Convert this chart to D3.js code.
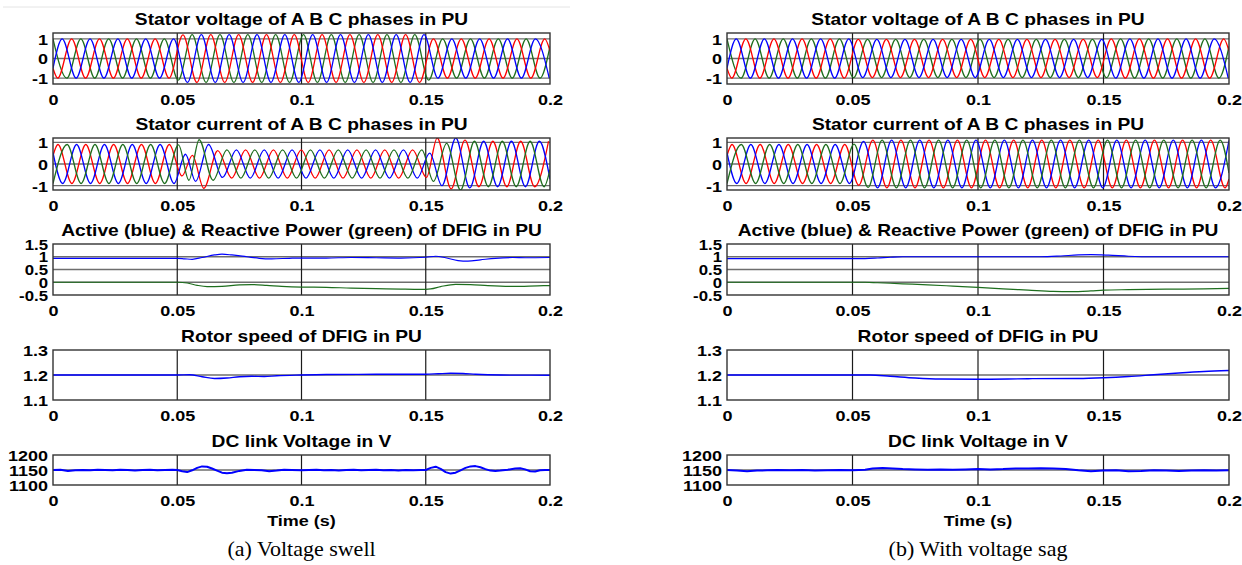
<!DOCTYPE html>
<html>
<head>
<meta charset="utf-8">
<script src="https://cdn.jsdelivr.net/npm/d3@7"></script>
<style>
body { margin: 0; background: #fff; }
text { font-family: "Liberation Sans", Arial, sans-serif; }
</style>
</head>
<body>
<svg id="chart"></svg>
<script>
// ---- tick labels / titles ----
const timeTicks = [0, 0.05, 0.1, 0.15, 0.2];
const timeTickLabels = ["0", "0.05", "0.1", "0.15", "0.2"];
const panelTitles = [
  "Stator voltage of A B C phases in PU",
  "Stator current of A B C phases in PU",
  "Active (blue) & Reactive Power (green) of DFIG in PU",
  "Rotor speed of DFIG in PU",
  "DC link Voltage in V"
];
const puTicks = [-1, 0, 1];
const powerTicks = [-0.5, 0, 0.5, 1, 1.5];
const speedTicks = [1.1, 1.2, 1.3];
const dcTicks = [1100, 1150, 1200];
const captions = ["(a) Voltage swell", "(b) With voltage sag"];

// ---- stator voltage: extrema, phases cycle C(green), B(red), A(blue) ----
const voltPeakTimes = [
  0,.0019,.0037,.0056,.0075,.0093,.0112,.0131,.0149,.0168,
  .0187,.0205,.0224,.0243,.0261,.028,.0299,.0317,.0336,.0355,
  .0373,.0392,.0411,.0429,.0448,.0467,.0485,.0504,.0523,.0541,
  .056,.0579,.0597,.0616,.0635,.0653,.0672,.0691,.0709,.0728,
  .0747,.0765,.0784,.0803,.0821,.084,.0859,.0877,.0896,.0915,
  .0933,.0952,.0971,.0989,.1008,.1027,.1045,.1064,.1083,.1101,
  .112,.1139,.1157,.1176,.1195,.1213,.1232,.1251,.1269,.1288,
  .1307,.1325,.1344,.1363,.1381,.14,.1419,.1437,.1456,.1475,
  .1493,.1512,.1531,.1549,.1568,.1587,.1605,.1624,.1643,.1661,
  .168,.1699,.1717,.1736,.1755,.1773,.1792,.1811,.1829,.1848,
  .1867,.1885,.1904,.1923,.1941,.196,.1979,.1997
];
const swellVoltPeaks = [
  1,-1,1,-1,1,-1,1,-1,1,-1,
  1,-1,1,-1,1,-1,1,-1,1,-1,
  1,-1,1,-1,1,-1,1,-1.1,1.2,-1.22,
  1.22,-1.22,1.22,-1.22,1.22,-1.22,1.22,-1.22,1.22,-1.22,
  1.22,-1.22,1.22,-1.22,1.22,-1.22,1.22,-1.22,1.22,-1.22,
  1.22,-1.22,1.22,-1.22,1.22,-1.22,1.22,-1.22,1.22,-1.22,
  1.22,-1.22,1.22,-1.22,1.22,-1.22,1.22,-1.22,1.22,-1.22,
  1.22,-1.22,1.22,-1.22,1.22,-1.22,1.22,-1.22,1.22,-1.22,
  1.22,-1.1,1,-1,1,-1,1,-1,1,-1,
  1,-1,1,-1,1,-1,1,-1,1,-1,
  1,-1,1,-1,1,-1,1,-1
];
const sagVoltPeaks = [
  1,-1,1,-1,1,-1,1,-1,1,-1,
  1,-1,1,-1,1,-1,1,-1,1,-1,
  1,-1,1,-1,1,-1,1,-.98,.97,-.97,
  .97,-.97,.97,-.97,.97,-.97,.97,-.97,.97,-.97,
  .97,-.97,.97,-.97,.97,-.97,.97,-.97,.97,-.97,
  .97,-.97,.97,-.97,.97,-.97,.97,-.97,.97,-.97,
  .97,-.97,.97,-.97,.97,-.97,.97,-.97,.97,-.97,
  .97,-.97,.97,-.97,.97,-.97,.97,-.97,.97,-.97,
  .97,-.98,1,-1,1,-1,1,-1,1,-1,
  1,-1,1,-1,1,-1,1,-1,1,-1,
  1,-1,1,-1,1,-1,1,-1
];
const voltPhaseOrder = ["C", "B", "A"];
const voltStartVals = [null, -0.5, -0.5];
const swellVoltEndVals = [0.62, 0.38, null];
const sagVoltEndVals = [0.62, 0.38, null];

// ---- stator current: phases cycle B(red), A(blue), C(green) ----
const swellCurTimes = [
  .002,.0039,.0057,.0076,.0095,.0113,.0132,.0151,.0169,.0188,
  .0207,.0225,.0244,.0263,.0281,.03,.0319,.0337,.0356,.0375,
  .0393,.0412,.0431,.0449,.0468,.0487,.0505,.0519,.0533,.0547,
  .0561,.0574,.0588,.0607,.0626,.0644,.0663,.0682,.07,.0719,
  .0738,.0756,.0775,.0794,.0812,.0831,.085,.0868,.0887,.0906,
  .0924,.0943,.0962,.098,.0999,.1018,.1036,.1055,.1074,.1092,
  .1111,.113,.1148,.1167,.1186,.1204,.1223,.1242,.126,.1279,
  .1298,.1316,.1335,.1354,.1372,.1391,.141,.1428,.1447,.1466,
  .1484,.1503,.1516,.1531,.1546,.1565,.1584,.1602,.1621,.164,
  .1658,.1677,.1696,.1714,.1733,.1752,.177,.1789,.1808,.1826,
  .1845,.1864,.1882,.1901,.192,.1938,.1957,.1976,.1994
];
const swellCurPeaks = [
  .9,-.9,.9,-.9,.9,-.9,.9,-.9,.9,-.9,
  .9,-.9,.9,-.9,.9,-.9,.9,-.9,.9,-.9,
  .9,-.9,.9,-.9,.9,-.9,.88,-.55,.45,-.75,
  .4,-.8,1.12,-1.12,.9,-.75,.62,-.62,.65,-.65,
  .65,-.65,.65,-.65,.65,-.65,.65,-.65,.65,-.65,
  .65,-.65,.65,-.65,.65,-.65,.65,-.65,.65,-.65,
  .65,-.65,.65,-.65,.65,-.65,.65,-.65,.65,-.65,
  .65,-.65,.65,-.65,.65,-.65,.65,-.65,.65,-.65,
  .65,-.62,.5,-.8,1.2,-1,.95,-1.15,1.2,-1.2,
  1.1,-1.1,1.05,-1.05,1.05,-1.05,1.05,-1.05,1.05,-1.05,
  1.05,-1.05,1.05,-1.05,1.05,-1.05,1.05,-1.05,1.05
];
const sagCurTimes = [
  .002,.0039,.0057,.0076,.0095,.0114,.0132,.0151,.017,.0188,
  .0207,.0226,.0244,.0263,.0282,.0301,.0319,.0338,.0357,.0375,
  .0394,.0413,.0431,.045,.0469,.0488,.0506,.0525,.0544,.0562,
  .0581,.06,.0618,.0637,.0656,.0675,.0693,.0712,.0731,.0749,
  .0768,.0787,.0805,.0824,.0843,.0862,.088,.0899,.0918,.0936,
  .0955,.0974,.0992,.1011,.103,.1049,.1067,.1086,.1105,.1123,
  .1142,.1161,.1179,.1198,.1217,.1236,.1254,.1273,.1292,.131,
  .1329,.1348,.1366,.1385,.1404,.1423,.1441,.146,.1479,.1497,
  .1516,.1535,.1553,.1572,.1591,.161,.1628,.1647,.1666,.1684,
  .1703,.1722,.174,.1759,.1778,.1797,.1815,.1834,.1853,.1871,
  .189,.1909,.1927,.1946,.1965,.1984
];
const sagCurPeaks = [
  .9,-.9,.9,-.9,.9,-.9,.9,-.9,.9,-.9,
  .9,-.9,.9,-.9,.9,-.9,.9,-.9,.9,-.9,
  .9,-.9,.9,-.9,.9,-.9,.92,-.98,1.04,-1.08,
  1.1,-1.1,1.1,-1.1,1.1,-1.1,1.1,-1.1,1.1,-1.1,
  1.1,-1.1,1.1,-1.1,1.1,-1.1,1.1,-1.1,1.1,-1.1,
  1.1,-1.1,1.1,-1.1,1.1,-1.1,1.1,-1.1,1.1,-1.1,
  1.1,-1.1,1.1,-1.1,1.1,-1.1,1.1,-1.1,1.1,-1.1,
  1.1,-1.1,1.1,-1.1,1.1,-1.1,1.1,-1.1,1.1,-1.1,
  1.1,-1.1,1.1,-1.1,1.1,-1.1,1.1,-1.1,1.1,-1.1,
  1.1,-1.1,1.1,-1.1,1.1,-1.1,1.1,-1.1,1.1,-1.1,
  1.1,-1.1,1.1,-1.1,1.1,-1.1
];
const curPhaseOrder = ["B", "A", "C"];
const curStartVals = [0.39, 0.52, -0.9];
const swellCurEndVals = [null, -0.7, -0.25];
const sagCurEndVals = [-0.69, 1.09, -0.42];

// ---- active / reactive power ----
const swellActive = [[0,.94],[.05,.94],[.053,.92],[.056,.9],[.06,.97],[.065,1.07],[.068,1.1],[.072,1.07],[.078,1.0],[.083,.94],[.088,.92],[.095,.94],[.1,.95],[.11,.95],[.12,.97],[.13,.96],[.14,.95],[.15,.98],[.154,1.02],[.158,.96],[.163,.85],[.167,.83],[.172,.88],[.178,.94],[.185,.97],[.19,.96],[.2,.97]];
const swellReactive = [[0,0],[.05,0],[.054,-.03],[.058,-.12],[.062,-.17],[.068,-.16],[.075,-.1],[.08,-.09],[.086,-.12],[.092,-.16],[.1,-.19],[.11,-.2],[.12,-.23],[.13,-.25],[.14,-.27],[.148,-.28],[.152,-.26],[.156,-.17],[.162,-.08],[.168,-.09],[.175,-.13],[.185,-.16],[.195,-.14],[.2,-.13]];
const sagActive = [[0,.93],[.055,.93],[.06,.95],[.065,.98],[.07,1.0],[.1,1.0],[.125,1.0],[.133,1.03],[.14,1.07],[.145,1.08],[.152,1.06],[.16,1.02],[.17,1.0],[.2,1.0]];
const sagReactive = [[0,0],[.055,0],[.06,-.02],[.07,-.06],[.08,-.1],[.09,-.15],[.1,-.2],[.11,-.26],[.12,-.31],[.13,-.36],[.137,-.37],[.145,-.34],[.15,-.31],[.16,-.29],[.175,-.27],[.19,-.26],[.2,-.24]];

// ---- rotor speed ----
const swellSpeed = [[0,1.2],[.05,1.2],[.055,1.201],[.06,1.193],[.065,1.186],[.07,1.188],[.075,1.193],[.08,1.195],[.085,1.194],[.09,1.197],[.1,1.2],[.11,1.202],[.13,1.203],[.15,1.203],[.155,1.205],[.16,1.207],[.165,1.206],[.17,1.203],[.18,1.2],[.2,1.199]];
const sagSpeed = [[0,1.2],[.057,1.2],[.065,1.195],[.075,1.188],[.085,1.184],[.1,1.183],[.12,1.185],[.14,1.186],[.15,1.189],[.16,1.194],[.17,1.201],[.18,1.208],[.19,1.214],[.2,1.218]];

// ---- DC link voltage ----
const swellDc = [[0,1150],[.003,1151],[.006,1147],[.009,1149],[.012,1150],[.015,1149],[.018,1151],[.021,1150],[.024,1149],[.027,1151],[.03,1150],[.033,1148],[.036,1150],[.039,1151],[.042,1149],[.045,1150],[.048,1151],[.05,1150],[.052,1146],[.054,1143],[.056,1149],[.058,1157],[.06,1162],[.062,1161],[.064,1155],[.066,1148],[.068,1141],[.07,1139],[.072,1141],[.075,1147],[.078,1151],[.081,1150],[.084,1149],[.087,1146],[.09,1148],[.093,1151],[.096,1150],[.1,1149],[.103,1150],[.106,1151],[.109,1149],[.112,1150],[.115,1148],[.118,1150],[.121,1151],[.124,1149],[.127,1150],[.13,1151],[.133,1149],[.136,1150],[.139,1148],[.142,1150],[.145,1149],[.148,1150],[.15,1150],[.152,1157],[.154,1161],[.156,1154],[.158,1143],[.16,1138],[.162,1141],[.164,1149],[.166,1157],[.168,1162],[.17,1163],[.172,1159],[.174,1153],[.176,1148],[.178,1147],[.18,1148],[.183,1151],[.186,1155],[.188,1156],[.19,1152],[.192,1146],[.194,1145],[.196,1149],[.198,1150],[.2,1150]];
const sagDc = [[0,1150],[.004,1148],[.008,1146],[.012,1148],[.016,1149],[.02,1150],[.025,1149],[.03,1150],[.035,1148],[.04,1149],[.045,1150],[.05,1149],[.055,1151],[.058,1155],[.062,1157],[.066,1155],[.07,1153],[.075,1152],[.08,1151],[.085,1152],[.09,1151],[.095,1152],[.1,1153],[.105,1152],[.11,1153],[.115,1155],[.12,1155],[.125,1156],[.13,1155],[.135,1153],[.14,1149],[.145,1146],[.15,1148],[.155,1149],[.16,1146],[.165,1147],[.17,1149],[.175,1148],[.18,1147],[.185,1148],[.19,1149],[.195,1148],[.2,1149]];

// ---------------------------------------------------------------
const W = 1242, H = 565;
const SX = 1.2;               // the figure is stretched sideways, so is its lettering
const phaseColor = { A: "#0000ff", B: "#ff0000", C: "#1e6e1e" };

const svg = d3.select("#chart").attr("width", W).attr("height", H);

const cols = [{ x0: 53, x1: 550 }, { x0: 727, x1: 1229 }];
const rows = [
  { y0: 33, y1: 84 }, { y0: 138, y1: 190 }, { y0: 244, y1: 295 },
  { y0: 350, y1: 400 }, { y0: 455, y1: 485 }
];

// split an interleaved list of extrema into one polyline per phase
function phaseSeries(times, values, order, startVals, endVals) {
  return order.map((p, j) => {
    const pts = [];
    if (startVals[j] !== null) pts.push([0, startVals[j]]);
    times.forEach((t, i) => { if (i % 3 === j) pts.push([t, values[i]]); });
    if (endVals[j] !== null) pts.push([0.2, endVals[j]]);
    return { data: pts, color: phaseColor[p], width: 1.3, curve: d3.curveMonotoneX };
  });
}

let clipCount = 0;
function drawPanel(col, row, title, yDomain, yTicks, series, yFont) {
  const x = d3.scaleLinear().domain([0, 0.2]).range([col.x0, col.x1]);
  const y = d3.scaleLinear().domain(yDomain).range([row.y1, row.y0]);
  const g = svg.append("g");
  const id = "clip" + (clipCount++);
  g.append("clipPath").attr("id", id).append("rect")
    .attr("x", col.x0).attr("y", row.y0)
    .attr("width", col.x1 - col.x0).attr("height", row.y1 - row.y0);

  g.append("rect").attr("x", col.x0).attr("y", row.y0)
    .attr("width", col.x1 - col.x0).attr("height", row.y1 - row.y0)
    .attr("fill", "#fff");

  // grid
  g.selectAll(".hg").data(yTicks.filter(v => v > yDomain[0] && v < yDomain[1]))
    .join("line").attr("class", "hg")
    .attr("x1", col.x0).attr("x2", col.x1)
    .attr("y1", d => y(d)).attr("y2", d => y(d))
    .attr("stroke", "#6e6e6e").attr("stroke-width", 1.3);
  g.selectAll(".vg").data(timeTicks.slice(1, -1))
    .join("line").attr("class", "vg")
    .attr("x1", d => x(d)).attr("x2", d => x(d))
    .attr("y1", row.y0).attr("y2", row.y1)
    .attr("stroke", "#1a1a1a").attr("stroke-width", 1.2);

  // traces
  const lines = g.append("g").attr("clip-path", `url(#${id})`);
  series.forEach(s => {
    lines.append("path").datum(s.data)
      .attr("fill", "none").attr("stroke", s.color).attr("stroke-width", s.width)
      .attr("stroke-linejoin", "round")
      .attr("d", d3.line().x(d => x(d[0])).y(d => y(d[1])).curve(s.curve));
  });

  // frame
  g.append("rect").attr("x", col.x0).attr("y", row.y0)
    .attr("width", col.x1 - col.x0).attr("height", row.y1 - row.y0)
    .attr("fill", "none").attr("stroke", "#333").attr("stroke-width", 1.4);

  // axes (labels only)
  const xa = g.append("g").attr("transform", `translate(0,${row.y1})`)
    .call(d3.axisBottom(x).tickValues(timeTicks)
      .tickFormat((d, i) => timeTickLabels[i]).tickSize(0).tickPadding(0));
  const ya = g.append("g").attr("transform", `translate(${col.x0},0)`)
    .call(d3.axisLeft(y).tickValues(yTicks).tickFormat(d => String(d)).tickSize(0).tickPadding(0));
  [xa, ya].forEach(a => a.select(".domain").remove());
  xa.selectAll("text")
    .attr("y", 0).attr("dy", null)
    .attr("transform", `translate(0,21) scale(${SX},1)`)
    .attr("font-size", 15).attr("font-weight", "bold").attr("fill", "#000");
  const fy = yFont || 15;
  ya.selectAll("text")
    .attr("x", 0).attr("dy", null).attr("y", 0)
    .attr("transform", `translate(-5,${fy * 0.36}) scale(${SX},1)`)
    .attr("font-size", fy).attr("font-weight", "bold").attr("fill", "#000");
  ya.attr("font-family", null); xa.attr("font-family", null);

  // title
  g.append("text")
    .attr("transform", `translate(${(col.x0 + col.x1) / 2},${row.y0 - 8}) scale(${SX},1)`)
    .attr("text-anchor", "middle").attr("font-size", 16).attr("font-weight", "bold")
    .text(title);
}

const cases = [
  {
    volt: phaseSeries(voltPeakTimes, swellVoltPeaks, voltPhaseOrder, voltStartVals, swellVoltEndVals),
    cur: phaseSeries(swellCurTimes, swellCurPeaks, curPhaseOrder, curStartVals, swellCurEndVals),
    active: swellActive, reactive: swellReactive, speed: swellSpeed, dc: swellDc
  },
  {
    volt: phaseSeries(voltPeakTimes, sagVoltPeaks, voltPhaseOrder, voltStartVals, sagVoltEndVals),
    cur: phaseSeries(sagCurTimes, sagCurPeaks, curPhaseOrder, curStartVals, sagCurEndVals),
    active: sagActive, reactive: sagReactive, speed: sagSpeed, dc: sagDc
  }
];

cases.forEach((c, ci) => {
  const col = cols[ci];
  drawPanel(col, rows[0], panelTitles[0], [-1.3, 1.3], puTicks, c.volt);
  drawPanel(col, rows[1], panelTitles[1], [-1.2, 1.2], puTicks, c.cur);
  drawPanel(col, rows[2], panelTitles[2], [-0.5, 1.5], powerTicks, [
    { data: c.reactive, color: "#1e6e1e", width: 1.2, curve: d3.curveMonotoneX },
    { data: c.active, color: "#0000ff", width: 1.2, curve: d3.curveMonotoneX }
  ], 14);
  drawPanel(col, rows[3], panelTitles[3], [1.1, 1.3], speedTicks, [
    { data: c.speed, color: "#0000ff", width: 1.3, curve: d3.curveMonotoneX }
  ]);
  drawPanel(col, rows[4], panelTitles[4], [1100, 1200], dcTicks, [
    { data: c.dc, color: "#0000ff", width: 2, curve: d3.curveLinear }
  ]);

  const cx = (col.x0 + col.x1) / 2;
  svg.append("text")
    .attr("transform", `translate(${cx},526) scale(${SX},1)`)
    .attr("text-anchor", "middle").attr("font-size", 15).attr("font-weight", "bold")
    .text("Time (s)");
  svg.append("text")
    .attr("transform", `translate(${cx},556) scale(1.1,1)`)
    .attr("text-anchor", "middle").attr("font-size", 20)
    .style("font-family", "'Liberation Serif', 'Times New Roman', serif")
    .text(captions[ci]);
});

// faint page edge above the left figure
svg.append("line").attr("x1", 3).attr("x2", 570).attr("y1", 7).attr("y2", 7)
  .attr("stroke", "#e4e4e4").attr("stroke-width", 1);
</script>
</body>
</html>
